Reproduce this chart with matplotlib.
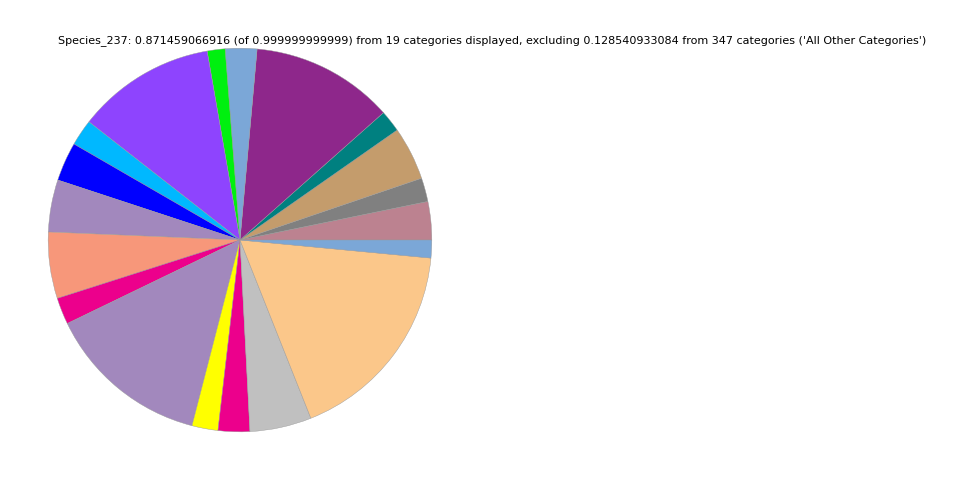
import matplotlib
matplotlib.use("Agg")
import matplotlib.pyplot as plt

# slice values (share of the displayed 0.8715)
values = [0.0281, 0.0174, 0.0392, 0.0160, 0.1048, 0.0232, 0.0131, 0.1019,
          0.0194, 0.0286, 0.0383, 0.0487, 0.0196, 0.1203, 0.0191, 0.0232,
          0.0453, 0.1523, 0.0131]
colors = ["#bc8290", "#808080", "#c49c6c", "#008080", "#8e278b", "#7ba7d7",
          "#00f00f", "#8e44fe", "#00b8ff", "#0000ff", "#a288bd", "#f7977a",
          "#ec008c", "#a288bd", "#ffff00", "#ec008c", "#c0c0c0", "#fbc78a",
          "#7ba7d7"]

title = ("Species_237: 0.871459066916 (of 0.999999999999) from 19 categories displayed, "
         "excluding 0.128540933084 from 347 categories ('All Other Categories')")

fig = plt.figure(figsize=(9.6, 4.8), dpi=100)
ax = fig.add_axes([29/960, 29/480, 422/960, 422/480])
ax.pie(values, colors=colors, startangle=0, counterclock=True,
       wedgeprops={"edgecolor": "#999999", "linewidth": 0.3})
ax.set_xlim(-1.1, 1.1)
ax.set_ylim(-1.1, 1.1)
ax.set_aspect("equal")
fig.suptitle(title, x=492/960, y=1 - 35/480, fontsize=8)
fig.savefig("out.png", dpi=100)
